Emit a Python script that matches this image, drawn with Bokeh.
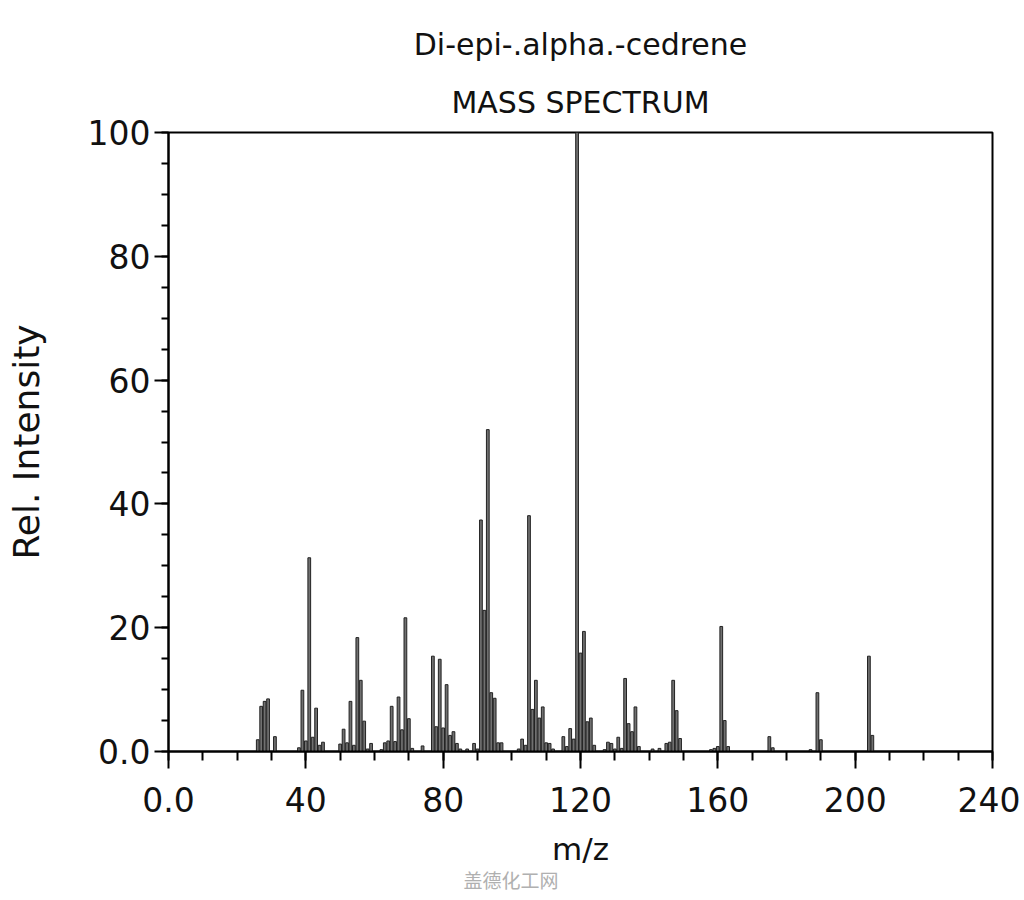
from bokeh.plotting import figure
from bokeh.models import Title, FixedTicker
from bokeh.embed import file_html
from bokeh.resources import INLINE

mz = [26, 27, 28, 29, 31, 38, 39, 40, 41, 42, 43, 44, 45, 50, 51, 52, 53, 54, 55, 56,
      57, 58, 59, 62, 63, 64, 65, 66, 67, 68, 69, 70, 71, 74, 77, 78, 79, 80, 81, 82,
      83, 84, 85, 87, 89, 90, 91, 92, 93, 94, 95, 96, 97, 102, 103, 104, 105, 106, 107, 108,
      109, 110, 111, 112, 115, 116, 117, 118, 119, 120, 121, 122, 123, 124, 127, 128, 129, 130, 131, 132,
      133, 134, 135, 136, 137, 141, 143, 145, 146, 147, 148, 149, 158, 159, 160, 161, 162, 163, 175, 176,
      187, 189, 190, 204, 205]
intensity = [1.9, 7.3, 8.1, 8.5, 2.4, 0.6, 9.9, 1.7, 31.3, 2.3, 7.0, 1.0, 1.5, 1.2, 3.6, 1.4, 8.1, 1.0, 18.4, 11.5,
             4.9, 0.4, 1.3, 0.3, 1.4, 1.7, 7.3, 1.6, 8.8, 3.5, 21.6, 5.3, 0.5, 0.9, 15.4, 4.0, 14.9, 3.8, 10.8, 2.6,
             3.2, 1.3, 0.4, 0.4, 1.3, 0.4, 37.4, 22.8, 52.0, 9.5, 8.6, 1.4, 1.4, 0.4, 2.0, 1.0, 38.1, 6.8, 11.5, 5.4,
             7.2, 1.4, 1.3, 0.4, 2.4, 0.8, 3.7, 2.0, 100.0, 15.9, 19.4, 4.8, 5.4, 1.0, 0.3, 1.5, 1.3, 0.4, 2.3, 0.5,
             11.8, 4.5, 3.2, 7.2, 0.8, 0.4, 0.5, 1.3, 1.5, 11.5, 6.6, 2.1, 0.3, 0.5, 0.8, 20.2, 5.0, 0.8, 2.4, 0.6,
             0.3, 9.5, 1.9, 15.4, 2.6]

x_ticks = [0, 40, 80, 120, 160, 200, 240]
x_tick_labels = ["0.0", "40", "80", "120", "160", "200", "240"]
y_ticks = [0, 20, 40, 60, 80, 100]
y_tick_labels = ["0.0", "20", "40", "60", "80", "100"]
x_minor = list(range(0, 241, 10))
y_minor = list(range(0, 101, 5))

FONT = "DejaVu Sans"

p = figure(width=1020, height=892, x_range=(0, 240), y_range=(0, 100),
           output_backend="svg", toolbar_location=None,
           min_border_left=168, min_border_right=28, min_border_top=132, min_border_bottom=141)

p.vbar(x=mz, top=intensity, width=0.8, bottom=0,
       fill_color="#707070", line_color="#222222", line_width=1)

p.title.text = "Di-epi-.alpha.-cedrene"
p.title.align = "center"
p.title.text_font = FONT
p.title.text_font_size = "30px"
p.title.text_font_style = "normal"
p.title.text_color = "#111111"
p.title.standoff = 18
p.add_layout(Title(text="MASS SPECTRUM", align="center", text_font=FONT,
                   text_font_size="30px", text_font_style="normal", text_color="#111111",
                   standoff=25), "above")

p.xgrid.visible = False
p.ygrid.visible = False
p.outline_line_color = "black"
p.outline_line_width = 2
p.background_fill_color = "white"
p.border_fill_color = "white"

xa = p.xaxis[0]
xa.ticker = FixedTicker(ticks=x_ticks, minor_ticks=x_minor)
xa.major_label_overrides = {t: l for t, l in zip(x_ticks, x_tick_labels)}
xa.axis_label = "m/z"
ya = p.yaxis[0]
ya.ticker = FixedTicker(ticks=y_ticks, minor_ticks=y_minor)
ya.major_label_overrides = {t: l for t, l in zip(y_ticks, y_tick_labels)}
ya.axis_label = "Rel. Intensity"

for ax in (xa, ya):
    ax.axis_line_color = "black"
    ax.axis_line_width = 2
    ax.major_tick_line_color = "black"
    ax.major_tick_line_width = 2
    ax.minor_tick_line_color = "black"
    ax.minor_tick_line_width = 2
    ax.major_tick_in = 0
    ax.minor_tick_in = 0
    ax.major_label_text_font = FONT
    ax.major_label_text_font_size = "33px"
    ax.major_label_text_color = "#111111"
    ax.axis_label_text_font = FONT
    ax.axis_label_text_font_style = "normal"
    ax.axis_label_text_color = "#111111"

xa.axis_label_text_font_size = "31px"
ya.axis_label_text_font_size = "36px"
xa.major_tick_out = 17
xa.minor_tick_out = 9
xa.major_label_standoff = 18
xa.axis_label_standoff = 16
ya.major_tick_out = 14
ya.minor_tick_out = 7
ya.major_label_standoff = 4
ya.axis_label_standoff = 38

p.add_layout(Title(text="盖德化工网", align="left", offset=295, standoff=-12,
                   text_font="Noto Sans CJK SC", text_font_size="19px",
                   text_font_style="normal", text_color="#b0b0b0"), "below")

open("out.html", "w").write(file_html(p, INLINE))
